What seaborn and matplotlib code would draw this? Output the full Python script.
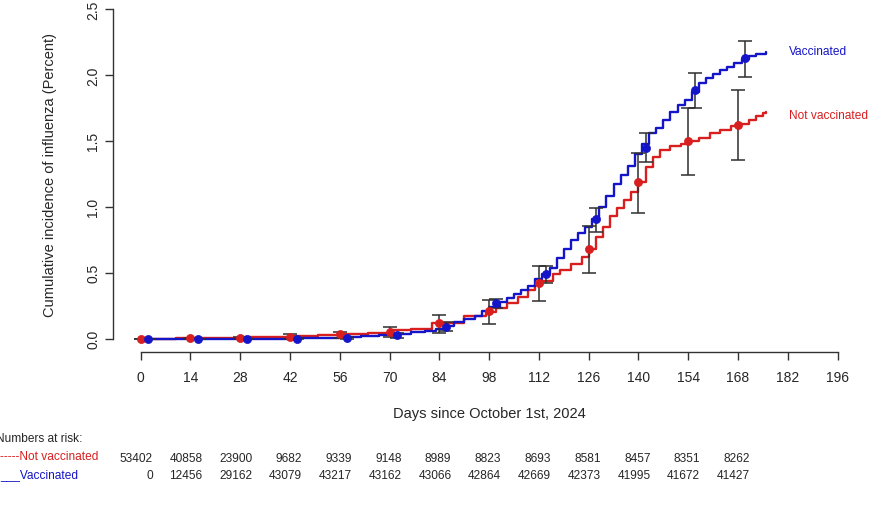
import matplotlib
matplotlib.use("Agg")
import matplotlib.pyplot as plt
import matplotlib.transforms as mtransforms
import numpy as np
import pandas as pd
import seaborn as sns

# cumulative incidence curves (step functions)
days_nv = [0, 10, 20, 28, 35, 42, 50, 57, 64, 70, 76, 82, 91, 97, 100, 103, 106, 109, 111, 113,
           116, 118, 121, 124, 126, 128, 130, 132, 134, 136, 138, 140, 142, 144, 146, 149, 152,
           154, 157, 160, 163, 166, 168, 171, 173, 175, 176]
inc_nv = [0, 0.003, 0.006, 0.01, 0.012, 0.018, 0.03, 0.038, 0.047, 0.065, 0.075, 0.122, 0.175,
          0.2, 0.23, 0.27, 0.32, 0.37, 0.41, 0.44, 0.49, 0.52, 0.57, 0.62, 0.68, 0.77, 0.85, 0.93,
          0.99, 1.05, 1.11, 1.19, 1.30, 1.38, 1.43, 1.46, 1.48, 1.50, 1.52, 1.56, 1.58, 1.61,
          1.63, 1.66, 1.69, 1.71, 1.716]

days_v = [0, 30, 42, 50, 56, 62, 67, 72, 76, 80, 83, 86, 88, 91, 94, 96, 98, 101, 103, 105, 107,
          109, 111, 113, 115, 117, 119, 121, 123, 125, 127, 129, 131, 133, 135, 137, 139, 141,
          143, 145, 147, 149, 151, 153, 155, 157, 159, 161, 163, 165, 167, 169, 171, 173, 176]
inc_v = [0, 0.0, 0.003, 0.008, 0.012, 0.02, 0.03, 0.04, 0.05, 0.06, 0.075, 0.1, 0.125, 0.15,
         0.175, 0.21, 0.24, 0.28, 0.31, 0.34, 0.37, 0.40, 0.45, 0.49, 0.54, 0.61, 0.68, 0.75,
         0.80, 0.85, 0.91, 1.00, 1.08, 1.17, 1.24, 1.31, 1.40, 1.48, 1.56, 1.60, 1.66, 1.72,
         1.77, 1.81, 1.87, 1.94, 1.98, 2.01, 2.04, 2.06, 2.09, 2.12, 2.14, 2.16, 2.176]

# point estimates with confidence intervals
pt_days_nv = [0, 14, 28, 42, 56, 70, 84, 98, 112, 126, 140, 154, 168]
pt_nv = [0, 0.003, 0.009, 0.016, 0.04, 0.054, 0.118, 0.211, 0.421, 0.68, 1.185, 1.496, 1.622]
lo_nv = [0, 0.0, 0.002, 0.0, 0.003, 0.017, 0.047, 0.11, 0.287, 0.502, 0.952, 1.24, 1.357]
hi_nv = [0, 0.008, 0.016, 0.037, 0.055, 0.09, 0.178, 0.295, 0.553, 0.856, 1.41, 1.75, 1.888]

pt_days_v = [2, 16, 30, 44, 58, 72, 86, 100, 114, 128, 142, 156, 170]
pt_v = [0, 0, 0, 0.0, 0.005, 0.026, 0.092, 0.269, 0.489, 0.907, 1.45, 1.888, 2.126]
lo_v = [0, 0, 0, 0.0, 0.0, 0.009, 0.06, 0.23, 0.426, 0.81, 1.337, 1.753, 1.986]
hi_v = [0, 0, 0, 0.004, 0.012, 0.047, 0.125, 0.305, 0.553, 0.988, 1.56, 2.014, 2.26]

# numbers at risk
risk_days = [0, 14, 28, 42, 56, 70, 84, 98, 112, 126, 140, 154, 168]
risk_nv = [53402, 40858, 23900, 9682, 9339, 9148, 8989, 8823, 8693, 8581, 8457, 8351, 8262]
risk_v = [0, 12456, 29162, 43079, 43217, 43162, 43066, 42864, 42669, 42373, 41995, 41672, 41427]

RED = "#d81e1e"
BLUE = "#1414c8"
AXC = "#333333"

sns.set_style("white")
plt.rcParams["font.family"] = ["Liberation Sans", "DejaVu Sans"]

fig = plt.figure(figsize=(8.69, 5.10), dpi=100)
W, H = 869, 510
left, right, bottom, top = 112.8, 865.4, 353.0, -3.2
ax = fig.add_axes([left / W, (H - bottom) / H, (right - left) / W, (bottom - top) / H])

curves = pd.concat([
    pd.DataFrame({"day": days_nv, "inc": inc_nv, "grp": "Not vaccinated"}),
    pd.DataFrame({"day": days_v, "inc": inc_v, "grp": "Vaccinated"}),
])
sns.lineplot(data=curves, x="day", y="inc", hue="grp", estimator=None,
             palette={"Not vaccinated": RED, "Vaccinated": BLUE},
             drawstyle="steps-post", linewidth=1.7, legend=False, ax=ax)

for d, p, lo, hi, c in [(pt_days_nv, pt_nv, lo_nv, hi_nv, RED),
                        (pt_days_v, pt_v, lo_v, hi_v, BLUE)]:
    p = np.array(p)
    err = [p - np.array(lo), np.array(hi) - p]
    ax.errorbar(d, p, yerr=err, fmt="none", ecolor="#2e2e2e", elinewidth=1.1,
                capsize=5, capthick=1.1, zorder=3)
    sns.scatterplot(x=d, y=p, color=c, s=34, edgecolor=c, linewidth=0.5, zorder=4, ax=ax)

ax.text(182.4, 2.18, "Vaccinated", color=BLUE, fontsize=8.6, va="center", ha="left")
ax.text(182.4, 1.70, "Not vaccinated", color=RED, fontsize=8.6, va="center", ha="left")

ax.set_xlim(-7.84, 203.84)
ax.set_ylim(-0.1, 2.6)
ax.set_xticks(np.arange(0, 197, 14))
ax.set_yticks([0, 0.5, 1.0, 1.5, 2.0, 2.5])
ax.set_yticklabels(["0.0", "0.5", "1.0", "1.5", "2.0", "2.5"], rotation=90, va="center")
ax.tick_params(axis="both", direction="out", length=6, width=1, color=AXC,
               labelsize=10, left=True, bottom=True)
ax.tick_params(axis="x", pad=7)
ax.tick_params(axis="y", pad=3)
for s in ["top", "right"]:
    ax.spines[s].set_visible(False)
ax.spines["left"].set_bounds(0, 2.5)
ax.spines["bottom"].set_bounds(0, 196)
for s in ["left", "bottom"]:
    ax.spines[s].set_color(AXC)
    ax.spines[s].set_linewidth(1)

ax.set_xlabel("Days since October 1st, 2024", fontsize=10.5)
ax.set_ylabel("Cumulative incidence of influenza (Percent)", fontsize=10.5)
ax.xaxis.set_label_coords(0.5, -0.152)
ax.yaxis.set_label_coords(-0.0745, 0.5)

# numbers at risk table
trans = mtransforms.blended_transform_factory(ax.transData, fig.transFigure)
fig.text(-4 / W, 1 - 439 / H, "Numbers at risk:", fontsize=8.6, va="center", ha="left")
fig.text(0, 1 - 457 / H, "-----Not vaccinated", fontsize=8.6, va="center", ha="left", color=RED)
fig.text(0, 1 - 475 / H, "___Vaccinated", fontsize=8.6, va="center", ha="left", color=BLUE)
for d, a, b in zip(risk_days, risk_nv, risk_v):
    ax.text(d + 3.4, 1 - 459 / H, str(a), transform=trans, fontsize=8.6, ha="right", va="center")
    ax.text(d + 3.4, 1 - 476 / H, str(b), transform=trans, fontsize=8.6, ha="right", va="center")

fig.savefig("out.png", dpi=100)
